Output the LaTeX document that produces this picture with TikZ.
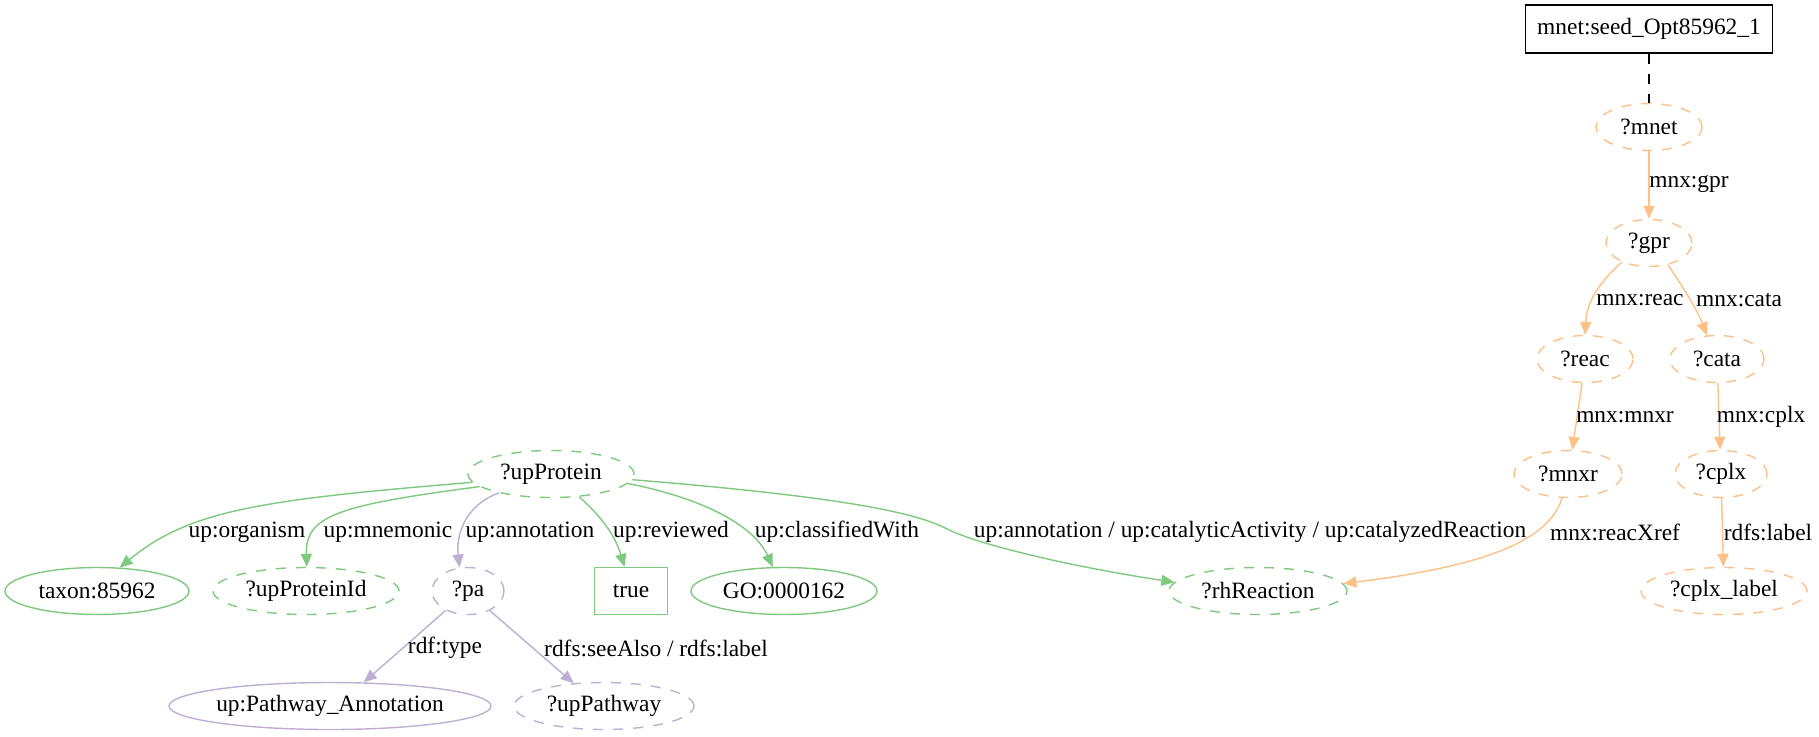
\documentclass[tikz,border=0pt]{standalone}
\usepackage{fontspec}
\setmainfont{Liberation Serif}
\usetikzlibrary{shapes.geometric,arrows.meta}
\definecolor{grn}{HTML}{7FC97F}
\definecolor{prp}{HTML}{BEAED4}
\definecolor{orng}{HTML}{FDC086}

\begin{document}
\begin{tikzpicture}[x=0.5pt,y=-0.5pt,line width=0.7pt,font=\fontsize{11.7}{14}\selectfont,
  varnode/.style={ellipse,dash pattern=on 5pt off 5pt,minimum height=23.5pt,inner sep=0pt},
  litnode/.style={ellipse,minimum height=23.5pt,inner sep=0pt},
  ovar/.style={varnode,draw=orng},gvar/.style={varnode,draw=grn},pvar/.style={varnode,draw=prp},
  glit/.style={litnode,draw=grn},plit/.style={litnode,draw=prp},
  elabel/.style={inner sep=0pt},
  oarr/.style={orng,-{Triangle[length=6.5pt,width=5.5pt]}},
  garr/.style={grn,-{Triangle[length=6.5pt,width=5.5pt]}},
  parr/.style={prp,-{Triangle[length=6.5pt,width=5.5pt]}}]
\useasboundingbox (0,0) rectangle (1819,736);
\node[draw,minimum width=123.5pt,minimum height=24pt,inner sep=0pt] (mnetbox) at (1649,29) {mnet:seed\_Opt85962\_1};
\node[ovar,minimum width=53pt] (mnet) at (1649,127) {?mnet};
\node[ovar,minimum width=43pt] (gpr) at (1649,243) {?gpr};
\node[ovar,minimum width=48pt] (reac) at (1585,359) {?reac};
\node[ovar,minimum width=47pt] (cata) at (1717,359) {?cata};
\node[ovar,minimum width=54pt] (mnxr) at (1568,474) {?mnxr};
\node[ovar,minimum width=46pt] (cplx) at (1721,474) {?cplx};
\node[ovar,minimum width=83pt] (cplxlabel) at (1724,591) {?cplx\_label};
\node[gvar,minimum width=89pt] (rhReaction) at (1258,591) {?rhReaction};
\node[gvar,minimum width=83pt] (upProtein) at (551,474) {?upProtein};
\node[glit,minimum width=92pt] (taxon) at (97,591) {taxon:85962};
\node[gvar,minimum width=93pt] (upProteinId) at (306,591) {?upProteinId};
\node[pvar,minimum width=36pt] (pa) at (468,591) {?pa};
\node[draw=grn,minimum width=36.5pt,minimum height=23.5pt,inner sep=0pt] (true) at (631,591) {true};
\node[glit,minimum width=93pt] (GO) at (784,591) {GO:0000162};
\node[plit,minimum width=161pt] (pathwayAnn) at (330,706) {up:Pathway\_Annotation};
\node[pvar,minimum width=90pt] (upPathway) at (604,706) {?upPathway};

\draw[dash pattern=on 5pt off 5pt] (mnetbox) -- (mnet);
\draw[oarr] (mnet) -- (gpr);
\draw[oarr] (gpr.215) .. controls (1600,282) and (1587,300) .. (reac.north);
\draw[oarr] (gpr.311) .. controls (1685,290) and (1698,312) .. (cata.113);
\draw[oarr] (reac.263) -- (mnxr.80);
\draw[oarr] (cata) -- (cplx);
\draw[oarr] (cplx) -- (cplxlabel);
\draw[oarr] (mnxr.256) .. controls (1548,545) and (1470,568) .. (rhReaction.5);
\draw[garr] (upProtein.186) .. controls (260,500) and (190,510) .. (taxon.46);
\draw[garr] (upProtein.190) .. controls (340,505) and (305,515) .. (upProteinId.88);
\draw[parr] (upProtein.200) .. controls (465,505) and (456,535) .. (pa.110);
\draw[garr] (upProtein.321) .. controls (600,515) and (615,535) .. (true.105);
\draw[garr] (upProtein.353) .. controls (710,500) and (755,528) .. (GO.115);
\draw[garr] (upProtein.356) .. controls (820,495) and (910,510) .. (945,528) .. controls (980,546) and (1080,568) .. (rhReaction.174);
\draw[parr] (pa.221) -- (pathwayAnn.35);
\draw[parr] (pa.318) -- (upPathway.143);

\node[elabel] (l-gpr) at (1689,184) {mnx:gpr};
\node[elabel] (l-reac) at (1640,300) {mnx:reac};
\node[elabel] (l-cata) at (1739,300) {mnx:cata};
\node[elabel] (l-mnxr) at (1625,417) {mnx:mnxr};
\node[elabel] (l-cplx) at (1761,417) {mnx:cplx};
\node[elabel] (l-xref) at (1615,532) {mnx:reacXref};
\node[elabel] (l-label) at (1768,532) {rdfs:label};
\node[elabel] (l-organism) at (247,532) {up:organism};
\node[elabel] (l-mnemonic) at (388,532) {up:mnemonic};
\node[elabel] (l-annotation) at (530,532) {up:annotation};
\node[elabel] (l-reviewed) at (671,532) {up:reviewed};
\node[elabel] (l-classified) at (837,532) {up:classifiedWith};
\node[elabel] (l-catalyzed) at (1250,532) {up:annotation / up:catalyticActivity / up:catalyzedReaction};
\node[elabel] (l-type) at (445,648) {rdf:type};
\node[elabel] (l-seealso) at (656,648) {rdfs:seeAlso / rdfs:label};
\end{tikzpicture}
\end{document}
